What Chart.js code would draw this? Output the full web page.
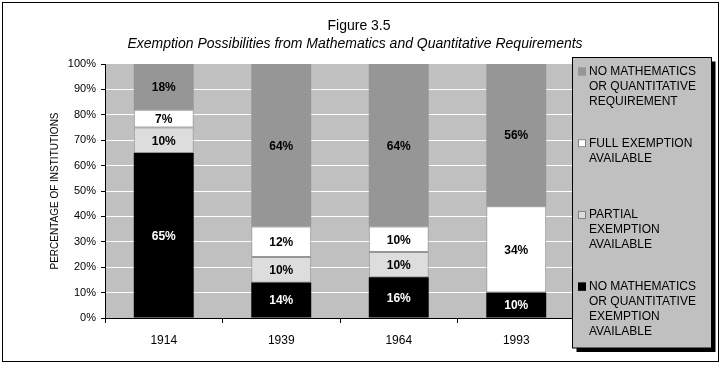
<!DOCTYPE html>
<html><head><meta charset="utf-8">
<script src="https://cdn.jsdelivr.net/npm/chart.js@4"></script>
<style>html,body{margin:0;padding:0;background:#fff}canvas{display:block}</style>
</head><body>
<canvas id="c" width="721" height="365"></canvas>
<script>
// ---- data ----
const categories = ['1914', '1939', '1964', '1993'];
const noMathExemption = [65, 14, 16, 10];     // black
const partialExemption = [10, 10, 10, 0];     // light gray
const fullExemption = [7, 12, 10, 34];        // white
const noMathRequirement = [18, 64, 64, 56];   // gray
const titleText = 'Figure 3.5';
const subtitleText = 'Exemption Possibilities from Mathematics and Quantitative Requirements';
const yAxisTitle = 'PERCENTAGE OF INSTITUTIONS';
const seriesLabels = [
  ['NO MATHEMATICS', 'OR QUANTITATIVE', 'EXEMPTION', 'AVAILABLE'],
  ['PARTIAL', 'EXEMPTION', 'AVAILABLE'],
  ['FULL EXEMPTION', 'AVAILABLE'],
  ['NO MATHEMATICS', 'OR QUANTITATIVE', 'REQUIREMENT']
];

// ---- styles ----
const FONT = '"Liberation Sans", Arial, Helvetica, sans-serif';
const seriesStyles = [
  { bg: '#000000', border: '#000000', bw: 0, text: '#ffffff' },
  { bg: '#dddddd', border: '#969696', bw: 1, text: '#000000' },
  { bg: '#ffffff', border: '#969696', bw: 1, text: '#000000' },
  { bg: '#969696', border: '#969696', bw: 0, text: '#000000' }
];
const seriesValues = [noMathExemption, partialExemption, fullExemption, noMathRequirement];

const datasets = seriesValues.map((vals, i) => ({
  label: seriesLabels[i].join(' '),
  data: vals,
  backgroundColor: seriesStyles[i].bg,
  borderColor: seriesStyles[i].border,
  borderWidth: seriesStyles[i].bw,
  borderSkipped: false,
  categoryPercentage: 1,
  barPercentage: 0.51,
  stack: 's'
}));

const backgroundPlugin = {
  id: 'bgFrame',
  beforeDraw(chart) {
    const { ctx, chartArea: a } = chart;
    ctx.save();
    ctx.fillStyle = '#ffffff';
    ctx.fillRect(0, 0, chart.width, chart.height);
    ctx.strokeStyle = '#000000';
    ctx.lineWidth = 1;
    ctx.strokeRect(2.5, 2.5, 716, 359);
    ctx.fillStyle = '#c0c0c0';
    ctx.fillRect(a.left, a.top, a.right - a.left, a.bottom - a.top);
    ctx.restore();
  }
};

const dataLabelPlugin = {
  id: 'segLabels',
  afterDatasetsDraw(chart) {
    const { ctx } = chart;
    ctx.save();
    ctx.font = 'bold 12px ' + FONT;
    ctx.textAlign = 'center';
    ctx.textBaseline = 'middle';
    chart.data.datasets.forEach((ds, di) => {
      const meta = chart.getDatasetMeta(di);
      meta.data.forEach((el, j) => {
        const v = ds.data[j];
        if (!v) return;
        ctx.fillStyle = seriesStyles[di].text;
        ctx.fillText(v + '%', el.x, (el.y + el.base) / 2 + 1);
      });
    });
    ctx.restore();
  }
};

const titleLegendPlugin = {
  id: 'titleLegend',
  afterDraw(chart) {
    const { ctx } = chart;
    ctx.save();
    // titles
    ctx.fillStyle = '#000000';
    ctx.textAlign = 'center';
    ctx.textBaseline = 'alphabetic';
    ctx.font = '14px ' + FONT;
    ctx.fillText(titleText, 359, 30);
    ctx.font = 'italic 14px ' + FONT;
    ctx.fillText(subtitleText, 355, 48);

    // legend box with shadow
    const bx = 572.5, by = 57.5, bw = 139, bh = 290.5;
    ctx.fillStyle = '#000000';
    ctx.fillRect(bx + 4, by + 4, bw, bh);
    ctx.fillStyle = '#c0c0c0';
    ctx.fillRect(bx, by, bw, bh);
    ctx.strokeStyle = '#000000';
    ctx.lineWidth = 1;
    ctx.strokeRect(bx, by, bw, bh);

    // entries, top entry is the last (top) series
    ctx.font = '12px ' + FONT;
    ctx.textAlign = 'left';
    ctx.textBaseline = 'middle';
    const n = chart.data.datasets.length;
    for (let k = 0; k < n; k++) {
      const di = n - 1 - k;
      const ds = chart.data.datasets[di];
      const lines = seriesLabels[di];
      const y0 = 71.5 + k * 71.7;
      ctx.fillStyle = ds.backgroundColor;
      ctx.fillRect(578, y0 - 4, 8, 8);
      ctx.strokeStyle = seriesStyles[di].bw ? '#808080' : ds.backgroundColor;
      ctx.strokeRect(578.5, y0 - 3.5, 7, 7);
      ctx.fillStyle = '#000000';
      lines.forEach((t, li) => ctx.fillText(t, 589, y0 + li * 15));
    }
    ctx.restore();
  }
};

new Chart(document.getElementById('c'), {
  type: 'bar',
  data: { labels: categories, datasets },
  options: {
    responsive: false,
    animation: false,
    devicePixelRatio: 1,
    layout: { padding: { left: 45, right: 146, top: 64, bottom: 17 } },
    plugins: { legend: { display: false }, title: { display: false }, tooltip: { enabled: false } },
    scales: {
      x: {
        stacked: true,
        offset: true,
        grid: { display: true, drawOnChartArea: false, offset: true, tickLength: 5, tickColor: '#000000' },
        border: { display: true, color: '#000000', width: 1 },
        ticks: { color: '#000000', font: { family: FONT, size: 12 }, padding: 10, maxRotation: 0 },
        afterFit(s) { s.height = 30; }
      },
      y: {
        stacked: true,
        min: 0, max: 100,
        ticks: { stepSize: 10, color: '#000000', font: { family: FONT, size: 11 }, padding: 5,
                 callback: v => v + '%' },
        grid: { color: c => (c.tick && c.tick.value === 100) ? 'rgba(0,0,0,0)' : '#ffffff',
                lineWidth: 1, tickLength: 4, tickColor: '#000000' },
        border: { display: true, color: '#000000', width: 1 },
        title: { display: true, text: yAxisTitle, color: '#000000',
                 font: { family: FONT, size: 10 }, padding: { top: 4, bottom: 0 } },
        afterFit(s) { s.width = 60; }
      }
    }
  },
  plugins: [backgroundPlugin, dataLabelPlugin, titleLegendPlugin]
});
</script>
</body></html>
